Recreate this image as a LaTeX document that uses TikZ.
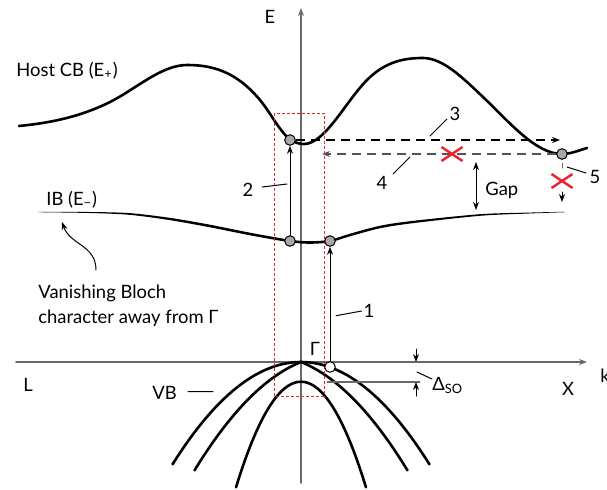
\documentclass[tikz,border=0pt]{standalone}
\usepackage{fontspec}
\setmainfont{Lato}
\usetikzlibrary{arrows.meta}
\definecolor{axisgray}{RGB}{105,105,105}
\definecolor{boxred}{RGB}{235,35,45}
\definecolor{dotgray}{RGB}{168,168,168}

\begin{document}
\begin{tikzpicture}[x=0.5pt, y=-0.5pt, font=\fontsize{9.2}{11}\selectfont, line join=round, line cap=round, >={Stealth[length=4pt,width=3pt]},
	dot/.style={circle, draw, line width=0.5pt, fill=dotgray, inner sep=0pt, minimum size=5.3pt},
	hole/.style={dot, fill=white},
	band/.style={line width=1.3pt},
	axis/.style={axisgray, line width=0.8pt},
	lead/.style={line width=0.5pt},
	redx/.style={boxred, line width=1.2pt, line cap=butt}]
		\useasboundingbox (0,0) rectangle (607,489);
		\path	(301,483) coordinate (O)
				(301,8) coordinate (E)
				(16,362) coordinate (L)
				(587,362) coordinate (K)
				(560,140) coordinate (A3)
				(322,154) coordinate (A4)
				(476,162) coordinate (G1)
				(476,210) coordinate (G2)
				(452,154) coordinate (X1)
				(562,181) coordinate (X2)
				(327,381.7) coordinate (S1)
				(420,381.7) coordinate (S2);
		\draw[axis,->] (O)--(E);
		\draw[axis,->] (L)--(K);
		% host conduction band
		\draw[band] (19,126) .. controls (49.33,122.97) and (79.67,117.17) .. (110,102)
			.. controls (135.67,89.17) and (161.33,65) .. (187,65)
			.. controls (211.33,65) and (235.67,70.8) .. (260,100)
			.. controls (270.33,112.4) and (280.67,133.28) .. (291,140)
			.. controls (295.33,142.82) and (299.67,144) .. (304,144)
			.. controls (325,144) and (346,101) .. (367,80)
			.. controls (385.67,61.33) and (404.33,58) .. (423,58)
			.. controls (443,58) and (463,78) .. (483,97)
			.. controls (509.33,122) and (535.67,154) .. (562,154)
			.. controls (570.33,154) and (578.67,150.5) .. (587,148);
		% intermediate band, thin at both ends
		\fill plot[smooth, tension=0.5] coordinates {(38,211.8) (90,212) (130,213.15) (170,217.85) (210,224.7) (250,232.7) (290,239.7) (310,241.2) (330,239.7) (350,233.7) (380,225.75) (413,220.85) (480,214.2) (530,212.55) (565,211.8)}
			-- plot[smooth, tension=0.5] coordinates {(565,212.2) (530,213.45) (480,215.8) (413,223.15) (380,228.25) (350,236.3) (330,242.3) (310,243.8) (290,242.3) (250,235.3) (210,227.3) (170,220.15) (130,214.85) (90,213) (38,212.2)} -- cycle;
		% valence bands
		\draw[band] plot[domain=-128.5:128.5, samples=61, smooth] ({301+\x}, {362+0.62*(\x/10)*(\x/10)});
		\draw[band] plot[domain=-106.5:106.5, samples=101] ({301+\x}, {362+0.4*abs(\x)+0.58*(\x/10)*(\x/10)});
		\draw[band] plot[domain=-65:65, samples=41, smooth] ({301+\x}, {381.7+2.5*(\x/10)*(\x/10)});
		\draw[boxred, line width=0.5pt, line cap=butt, dash pattern=on 1.5pt off 1pt] (274,113) rectangle (324,396);
		\foreach \n/\x/\y in {C1/290/140, C2/562/154, I1/290/241, I2/330/241}  \node[dot] (\n) at (\x,\y) {};
		\node[hole] (V1) at (330,367) {};
		\draw[->, lead] (I1)--(C1);
		\draw[->, lead] (V1)--(I2);
		\draw[->, line width=0.6pt, dash pattern=on 4.5pt off 3pt, line cap=butt] (C1)--(A3);
		\draw[->, axisgray!80!black, line width=0.6pt, dash pattern=on 4.5pt off 3pt, line cap=butt] (C2)--(A4);
		\draw[<->, lead] (G1)--(G2);
		\draw[axisgray, lead] (562,163)--(562,168);
		\draw[->, lead] (562,192)--(562,202);
		\draw[axisgray, line width=1pt, line cap=butt] (S1)--(S2);
		\draw[->, lead] (416,349)--(416,362);
		\draw[->, lead] (416,396)--(416,382);
		\foreach \p in {X1,X2}  \draw[redx] (\p) +(-10.5,-7) -- +(10.5,7) +(-10.5,7) -- +(10.5,-7);
		% leader lines
		\draw[lead] (262,187)--(287,184) (336,315.7)--(361.7,311) (430,136)--(447,119) (393,174)--(410,157)
			(567,167)--(586,173) (188,391.7)--(213,391.7) (417,372)--(432,379);
		\draw[lead,->] (96,270) .. controls (96,245) and (70,245) .. (62,222);
		\foreach \n/\x/\y in {1/369/317, 2/248/196, 3/455/120, 4/382/189, 5/595/183}  \node[anchor=base] at (\x,\y) {\n};
		\node[anchor=base] at (270,23) {E};
		\node[anchor=base west, inner sep=0pt] at (16,76) {Host CB (E\textsubscript{+})};
		\node[anchor=base west, inner sep=0pt] at (46,205) {IB (E\textsubscript{−})};
		\node[anchor=base west, inner sep=0pt] at (38,298) {Vanishing Bloch};
		\node[anchor=base west, inner sep=0pt] at (38,323) {character away from Γ};
		\node[anchor=base west, inner sep=0pt] at (485,195) {Gap};
		\node[anchor=base] at (315,355) {Γ};
		\node[anchor=base west, inner sep=0pt] at (432,390) {Δ\textsubscript{SO}};
		\node[anchor=base west, inner sep=0pt] at (152,399) {VB};
		\node[anchor=base west, inner sep=0pt] at (23,391) {L};
		\node[anchor=base] at (568,395) {X};
		\node[anchor=base west, inner sep=0pt] at (600,382) {k};
\end{tikzpicture}
\end{document}
